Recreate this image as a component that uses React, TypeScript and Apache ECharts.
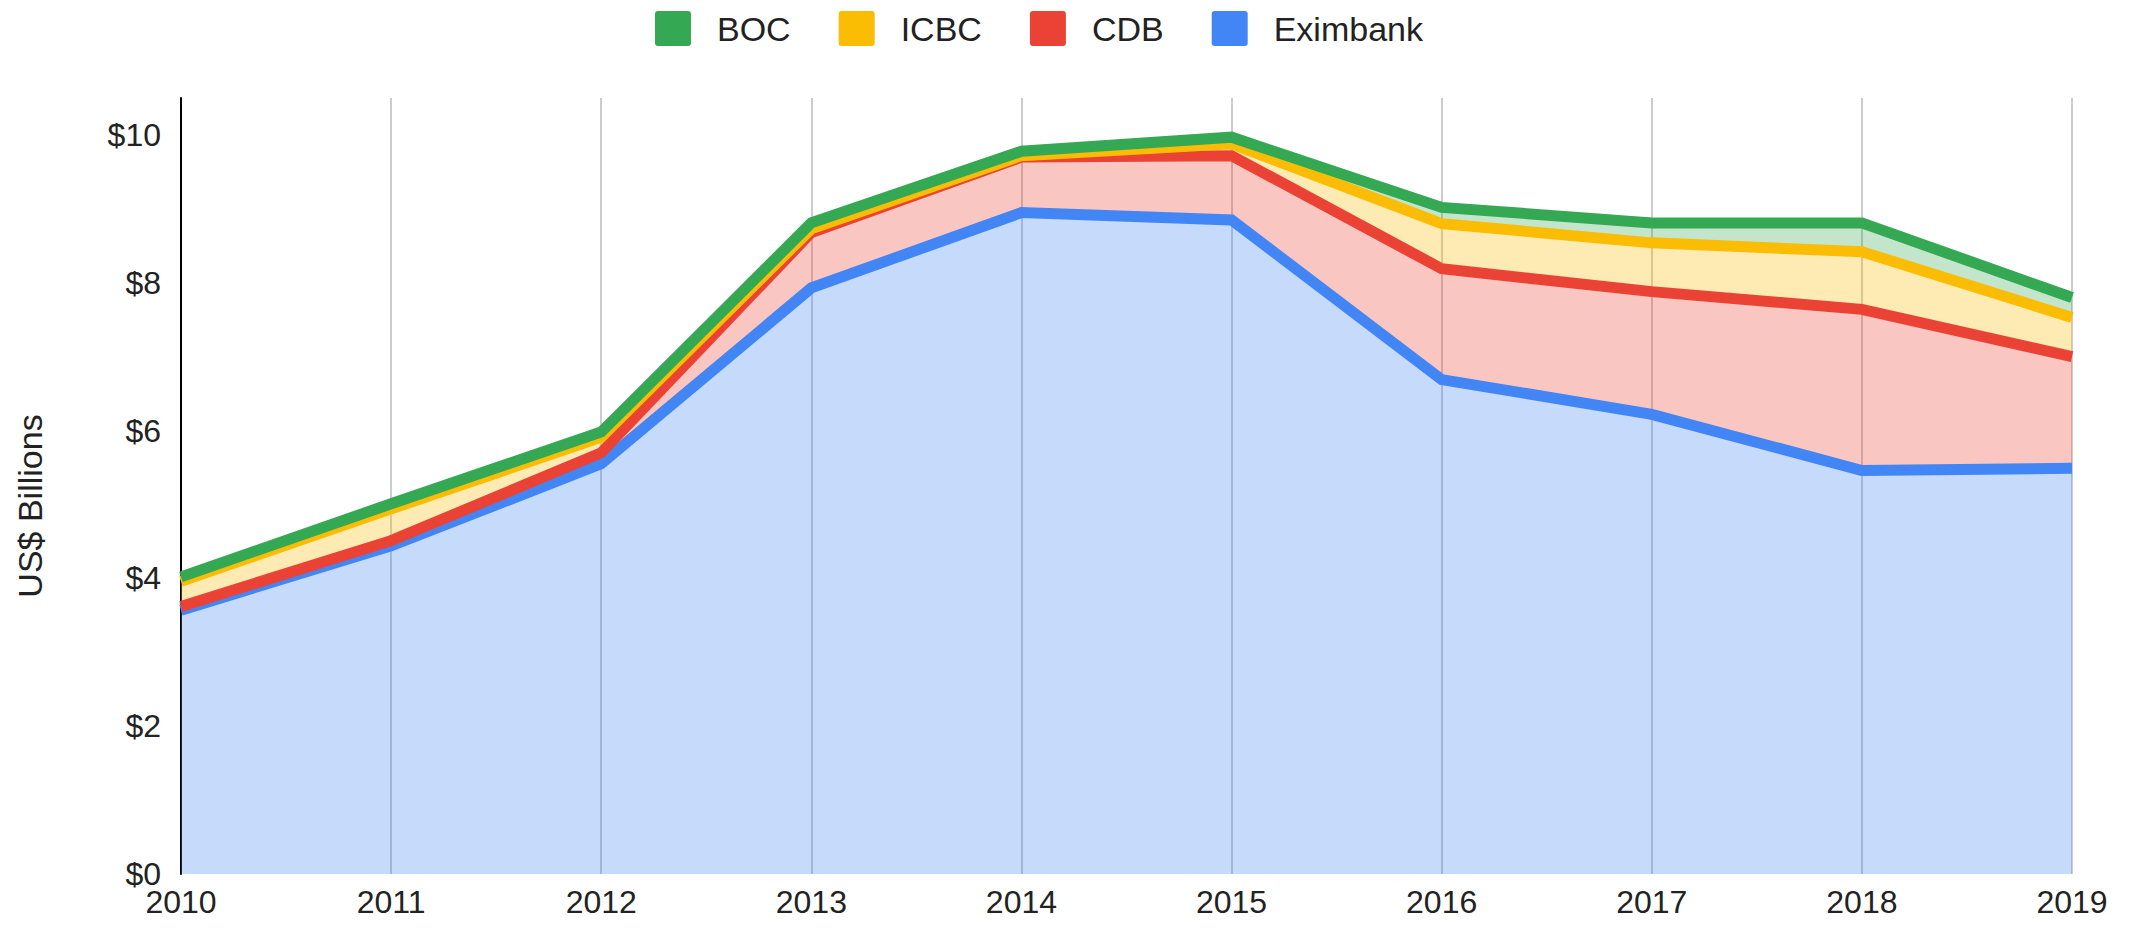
import React, { useEffect, useRef } from "react";
import * as echarts from "echarts";

const years = ["2010", "2011", "2012", "2013", "2014", "2015", "2016", "2017", "2018", "2019"];
const eximbank = [3.57, 4.44, 5.55, 7.93, 8.95, 8.85, 6.69, 6.22, 5.46, 5.49];
const cdb = [0.05, 0.07, 0.15, 0.75, 0.75, 0.87, 1.5, 1.66, 2.18, 1.51];
const icbc = [0.34, 0.43, 0.21, 0.05, 0.02, 0.16, 0.61, 0.66, 0.78, 0.53];
const boc = [0.06, 0.07, 0.07, 0.08, 0.06, 0.09, 0.22, 0.27, 0.39, 0.27];
const legendOrder = ["BOC", "ICBC", "CDB", "Eximbank"];
const yTickValues = [0, 2, 4, 6, 8, 10];

const FONT = "Liberation Sans, Arial, sans-serif";
const LEGEND_ICON = "path://M3,0 H33 Q36,0 36,3 V32 Q36,35 33,35 H3 Q0,35 0,32 V3 Q0,0 3,0 Z";

export default function App() {
  const ref = useRef<HTMLDivElement>(null);
  useEffect(() => {
    if (!ref.current) return;
    const chart = echarts.init(ref.current, undefined, { renderer: "svg" });
    const banks = [
      { name: "Eximbank", data: eximbank, color: "#4285F4" },
      { name: "CDB", data: cdb, color: "#EA4335" },
      { name: "ICBC", data: icbc, color: "#FBBC04" },
      { name: "BOC", data: boc, color: "#34A853" },
    ];
    const colorOf: Record<string, string> = {};
    banks.forEach((b) => (colorOf[b.name] = b.color));
    const areaSeries = banks.map((b) => ({
      name: b.name,
      type: "line",
      stack: "areas",
      data: b.data,
      z: 2,
      symbol: "none",
      showSymbol: false,
      silent: true,
      itemStyle: { color: b.color },
      lineStyle: { width: 0, color: b.color },
      areaStyle: { color: b.color, opacity: 0.3 },
      emphasis: { disabled: true },
    }));
    const lineSeries = banks.map((b) => ({
      name: b.name,
      type: "line",
      stack: "lines",
      data: b.data,
      z: 3,
      symbol: "none",
      showSymbol: false,
      silent: true,
      itemStyle: { color: b.color },
      lineStyle: { width: 11, color: b.color, join: "miter", cap: "butt" },
      emphasis: { disabled: true },
    }));
    chart.setOption({
      animation: false,
      backgroundColor: "#ffffff",
      textStyle: { fontFamily: FONT },
      legend: {
        data: legendOrder.map((n) => ({ name: n, icon: LEGEND_ICON, itemStyle: { color: colorOf[n] } })),
        itemWidth: 36,
        itemHeight: 35,
        itemGap: 48,
        left: 655,
        top: 11,
        padding: 0,
        selectedMode: false,
        textStyle: { fontSize: 34, color: "#222222", fontFamily: FONT, padding: [0, 0, 0, 21] },
      },
      grid: { left: 181, right: 59, top: 98, bottom: 56 },
      xAxis: {
        type: "category",
        data: years,
        boundaryGap: false,
        axisLine: { show: false },
        axisTick: { show: false },
        axisLabel: { fontSize: 32, color: "#222222", fontFamily: FONT, margin: 12 },
        splitLine: { show: true, lineStyle: { color: "#cccccc", width: 2 } },
      },
      yAxis: {
        type: "value",
        min: 0,
        max: 10.5,
        interval: 2,
        axisLine: { show: true, lineStyle: { color: "#000000", width: 2 } },
        axisTick: { show: false },
        splitLine: { show: false },
        axisLabel: {
          fontSize: 32,
          color: "#222222",
          fontFamily: FONT,
          margin: 20,
          formatter: (v: number) => (yTickValues.includes(v) ? "$" + v : ""),
        },
      },
      graphic: [
        {
          type: "text",
          x: 30,
          y: 506,
          rotation: Math.PI / 2,
          style: {
            text: "US$ Billions",
            fontSize: 34,
            fontFamily: FONT,
            fill: "#222222",
            align: "center",
            verticalAlign: "middle",
          },
        },
      ],
      series: [...areaSeries, ...lineSeries],
    });
    return () => chart.dispose();
  }, []);
  return (
    <div
      ref={ref}
      style={{ position: "fixed", left: 0, top: 0, width: 2131, height: 930, background: "#fff" }}
    />
  );
}
